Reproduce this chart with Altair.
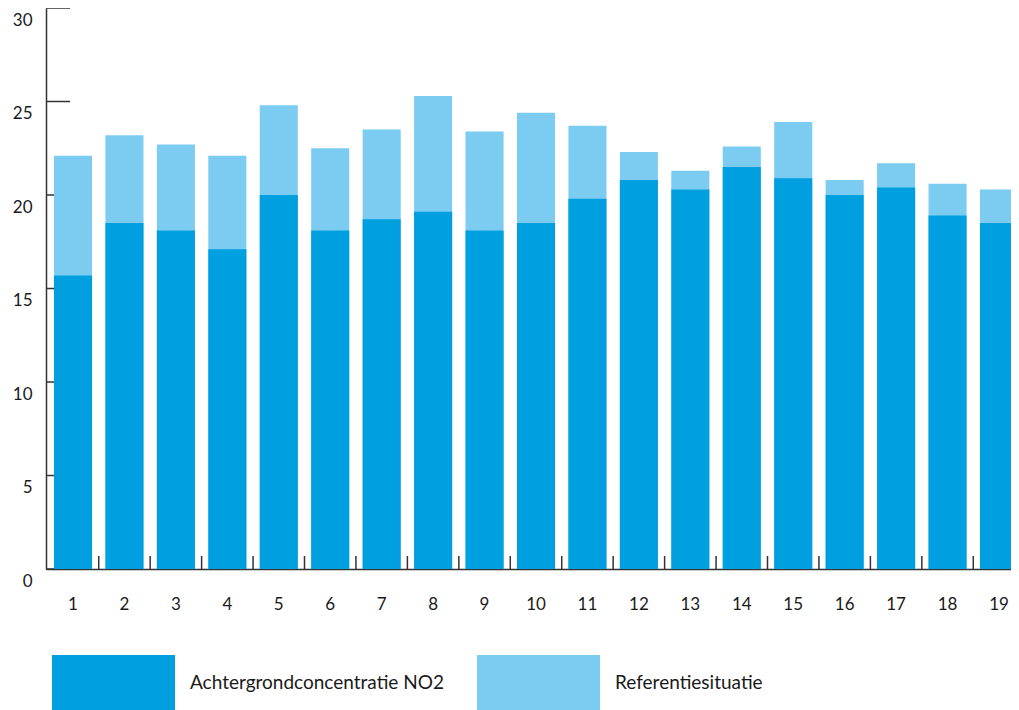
import altair as alt
import pandas as pd

categories = [str(i) for i in range(1, 20)]
achtergrond = [15.7, 18.5, 18.1, 17.1, 20.0, 18.1, 18.7, 19.1, 18.1, 18.5, 19.8,
               20.8, 20.3, 21.5, 20.9, 20.0, 20.4, 18.9, 18.5]
referentie = [22.1, 23.2, 22.7, 22.1, 24.8, 22.5, 23.5, 25.3, 23.4, 24.4, 23.7,
              22.3, 21.3, 22.6, 23.9, 20.8, 21.7, 20.6, 20.3]
y_ticks = [0, 5, 10, 15, 20, 25, 30]
series_names = ["Achtergrondconcentratie NO2", "Referentiesituatie"]
series_colors = ["#009FDF", "#7BCCF0"]

rows = []
for c, v in zip(categories, referentie):
    rows.append({"cat": c, "series": series_names[1], "value": v, "order": 0})
for c, v in zip(categories, achtergrond):
    rows.append({"cat": c, "series": series_names[0], "value": v, "order": 1})
df = pd.DataFrame(rows)

FONT = "Lato"
AXIS_COLOR = "#333333"

x_scale = alt.Scale(domain=categories, range=[0, 980], paddingInner=0.26, paddingOuter=0.155)
y_scale = alt.Scale(domain=[0, 30], nice=False, zero=True)

x_axis = alt.Axis(title=None, labelAngle=0, ticks=False, tickSize=0, grid=False,
                  domain=True, domainColor=AXIS_COLOR, domainWidth=1.5,
                  labelPadding=27, labelFontSize=17, labelFont=FONT,
                  labelColor="#1a1a1a")
y_axis = alt.Axis(title=None, values=y_ticks, ticks=False, tickSize=0, grid=False,
                  domain=True, domainColor=AXIS_COLOR, domainWidth=1.5,
                  labelPadding=14, labelFontSize=17, labelFont=FONT,
                  labelColor="#1a1a1a", labelBaseline="middle", labelOffset=12)

ytick_df = pd.DataFrame({"v": y_ticks})
ytick_rules = alt.Chart(ytick_df).mark_rule(color=AXIS_COLOR, strokeWidth=1.5).encode(
    y=alt.Y("v:Q", scale=y_scale, axis=y_axis),
    x=alt.value(0),
    x2=alt.value(24),
)

bars = alt.Chart(df).mark_bar().encode(
    x=alt.X("cat:N", scale=x_scale, sort=categories, axis=x_axis),
    y=alt.Y("value:Q", scale=y_scale, stack=None, axis=y_axis),
    color=alt.Color("series:N",
                    scale=alt.Scale(domain=series_names, range=series_colors),
                    legend=alt.Legend(
                        title=None, orient="none", legendX=6, legendY=613,
                        direction="horizontal", columns=2, gridAlign="all",
                        symbolType="M-1,-0.447L1,-0.447L1,0.447L-1,0.447Z",
                        symbolSize=15129, symbolStrokeWidth=0, symbolOpacity=1,
                        labelOffset=15, columnPadding=33, labelFontSize=19,
                        labelFont=FONT, labelColor="#1a1a1a", padding=0,
                        labelLimit=0)),
    order=alt.Order("order:Q"),
)

xtick_df = pd.DataFrame({"cat": categories[1:]})
xtick_rules = alt.Chart(xtick_df).mark_rule(color=AXIS_COLOR, strokeWidth=1.5, xOffset=-25.72).encode(
    x=alt.X("cat:N", scale=x_scale, sort=categories, axis=x_axis),
    y=alt.value(561),
    y2=alt.value(548),
)

chart = alt.layer(ytick_rules, bars, xtick_rules).properties(
    width=965, height=561,
    autosize=alt.AutoSizeParams(type="none"),
    padding={"left": 38, "top": 0, "right": 0, "bottom": 141},
).configure_view(stroke=None)

chart.save("out.html", embed_options={"renderer": "svg", "actions": False})
